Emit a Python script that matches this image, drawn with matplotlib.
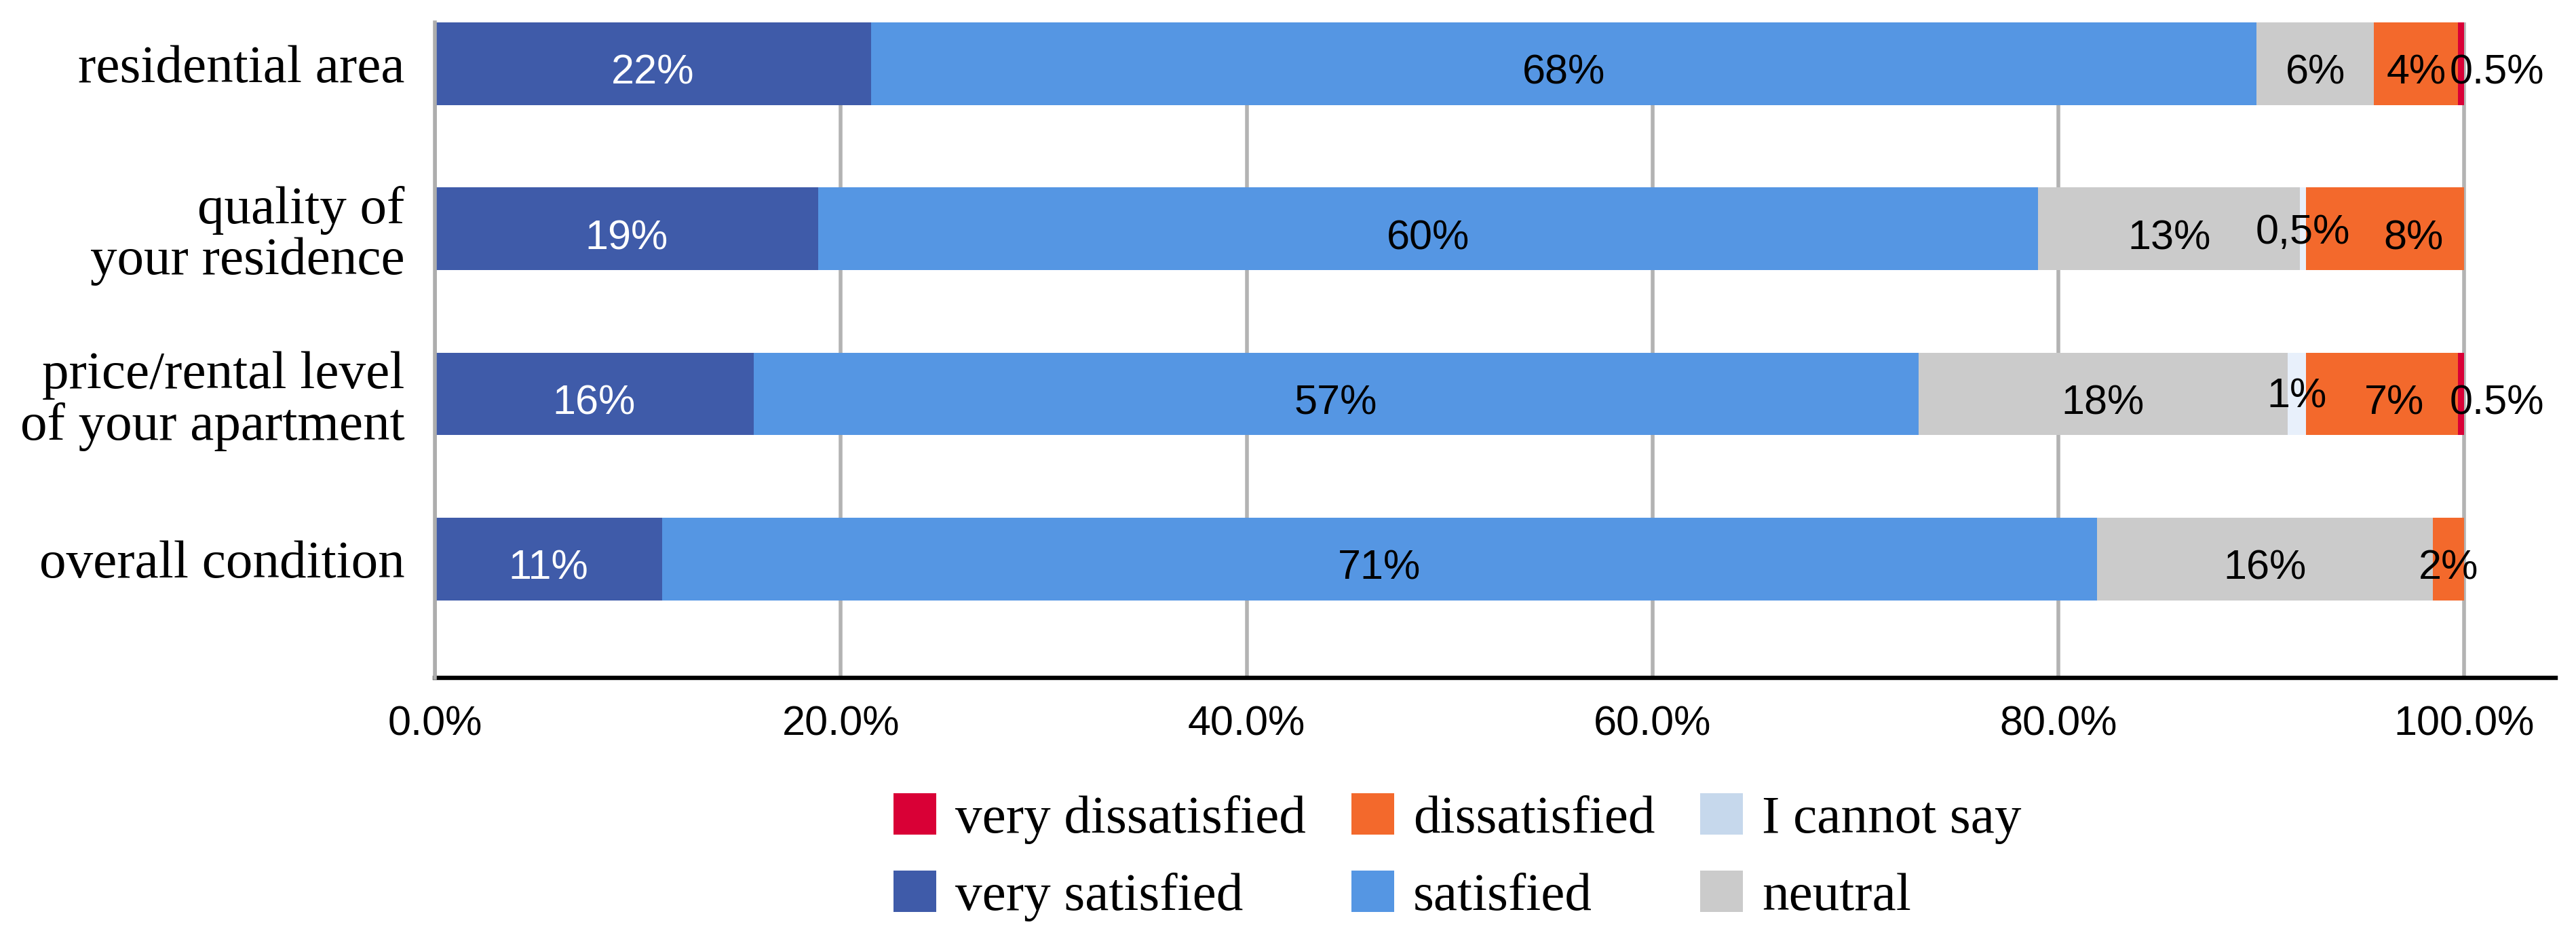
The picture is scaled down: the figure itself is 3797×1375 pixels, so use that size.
import matplotlib
matplotlib.use("Agg")
import matplotlib.pyplot as plt
import matplotlib.patches as mpatches
import numpy as np

# ---------------- data ----------------
categories = ["residential area", "quality of\nyour residence",
              "price/rental level\nof your apartment", "overall condition"]
series_names = ["very satisfied", "satisfied", "neutral", "I cannot say",
                "dissatisfied", "very dissatisfied"]
very_satisfied = [21.5, 18.9, 15.7, 11.2]
satisfied = [68.25, 60.1, 57.4, 70.7]
neutral = [5.8, 12.9, 18.2, 16.55]
cannot_say = [0.0, 0.3, 0.9, 0.0]
dissatisfied = [4.15, 7.8, 7.5, 1.55]
very_dissatisfied = [0.3, 0.0, 0.3, 0.0]

vs_labels = ["22%", "19%", "16%", "11%"]
s_labels = ["68%", "60%", "57%", "71%"]
n_labels = ["6%", "13%", "18%", "16%"]
c_labels = ["", "0,5%", "1%", ""]
d_labels = ["4%", "8%", "7%", "2%"]
vd_labels = ["0.5%", "", "0.5%", ""]

xticks = [0, 20, 40, 60, 80, 100]
xtick_labels = ["0.0%", "20.0%", "40.0%", "60.0%", "80.0%", "100.0%"]

# ---------------- style ----------------
bar_colors = ["#3F5BA9", "#5596E3", "#CBCBCB", "#E8F0FB", "#F3692C", "#D90036"]
legend_colors = ["#3F5BA9", "#5596E3", "#CBCBCB", "#C6D8EC", "#F3692C", "#D90036"]
label_colors = ["white", "black", "black", "black", "black", "black"]
# label nudges: (series index, row) -> (dx in %, dy in px up)
nudges = {(5, 0): (1.75, 0), (5, 2): (1.75, 0), (4, 1): (1.4, 0), (4, 2): (0.6, 0),
          (3, 1): (0, 8), (3, 2): (0, 10)}

SERIF = ["Liberation Serif", "DejaVu Serif"]
SANS = ["Liberation Sans", "DejaVu Sans"]

W, H = 3797, 1375
fig = plt.figure(figsize=(W / 100, H / 100), dpi=100)
ax = fig.add_axes([0.1688, 0.2735, 0.8233, 0.7025])

values = [very_satisfied, satisfied, neutral, cannot_say, dissatisfied, very_dissatisfied]
labels = [vs_labels, s_labels, n_labels, c_labels, d_labels, vd_labels]
y = np.arange(len(categories))
left = np.zeros(len(categories))
for si, (vals, labs) in enumerate(zip(values, labels)):
    vals = np.array(vals, dtype=float)
    ax.barh(y, vals, left=left, height=0.5, color=bar_colors[si], linewidth=0, zorder=2)
    for ri in range(len(categories)):
        if labs[ri]:
            dx, dy = nudges.get((si, ri), (0, 0))
            cx = left[ri] + vals[ri] / 2 + dx
            ax.annotate(labs[ri], (cx, y[ri]), xytext=(0, (-30 + dy) * 0.72),
                        textcoords="offset points", ha="center", va="baseline",
                        fontsize=44, family=SANS, color=label_colors[si], zorder=4)
    left = left + vals

ax.set_xlim(0, 104.5)
ax.set_ylim(3.72, -0.25)
ax.set_xticks(xticks, xtick_labels)
ax.set_yticks(y, categories)
for lab in ax.get_yticklabels():
    lab.set_family(SERIF)
    lab.set_fontsize(57)
    lab.set_linespacing(1.07)
    lab.set_multialignment("right")
for lab in ax.get_xticklabels():
    lab.set_family(SANS)
    lab.set_fontsize(44)
ax.tick_params(axis="x", length=0, pad=29)
ax.tick_params(axis="y", length=0, pad=32)

ax.set_axisbelow(True)
ax.xaxis.grid(True, color="#B3B3B3", linewidth=4)
ax.yaxis.grid(False)
for s in ["top", "right"]:
    ax.spines[s].set_visible(False)
ax.spines["left"].set_color("#ADADAD")
ax.spines["left"].set_linewidth(4)
ax.spines["bottom"].set_color("black")
ax.spines["bottom"].set_linewidth(4.6)
ax.spines["left"].set_zorder(3)

# legend: order as in reference (column-major fill)
order = [5, 0, 4, 1, 3, 2]
names = [series_names[i] for i in order]
FS = 57
fs_px = FS * 100 / 72

# target legend layout (pixels, top-left origin)
tgt_x0, tgt_top, tgt_row = 1317, 1169, 114
tgt_col2, tgt_col3 = 1985, 2506


def make_legend(lsp, csp, anchor):
    handles = [mpatches.Patch(facecolor=legend_colors[i], edgecolor="none") for i in order]
    return fig.legend(handles, names, loc="upper left", bbox_to_anchor=anchor,
                      ncol=3, frameon=False, prop={"family": SERIF, "size": FS},
                      handlelength=0.8, handleheight=0.8, handletextpad=0.35,
                      columnspacing=csp, labelspacing=lsp, borderpad=0, borderaxespad=0)


lsp, csp = 0.33, 0.76
anchor = (tgt_x0 / W, 1 - 1150 / H)
renderer = fig.canvas.get_renderer()
for _ in range(3):
    leg = make_legend(lsp, csp, anchor)
    fig.canvas.draw()
    hb = [h.get_window_extent(renderer) for h in leg.legend_handles]
    row_now = hb[0].y1 - hb[1].y1
    lsp += (tgt_row - row_now) / fs_px
    c2_now = hb[2].x0 - hb[0].x0
    c3_now = hb[4].x0 - hb[2].x0
    csp += ((tgt_col2 - tgt_x0 - c2_now) + (tgt_col3 - tgt_col2 - c3_now)) / 2 / fs_px
    # shift anchor so first handle top-left lands on target
    dx = tgt_x0 - hb[0].x0
    dy = (H - tgt_top) - hb[0].y1
    anchor = (anchor[0] + dx / W, anchor[1] + dy / H)
    leg.remove()

leg = make_legend(lsp, csp, anchor)

fig.savefig("out.png", dpi=100)
